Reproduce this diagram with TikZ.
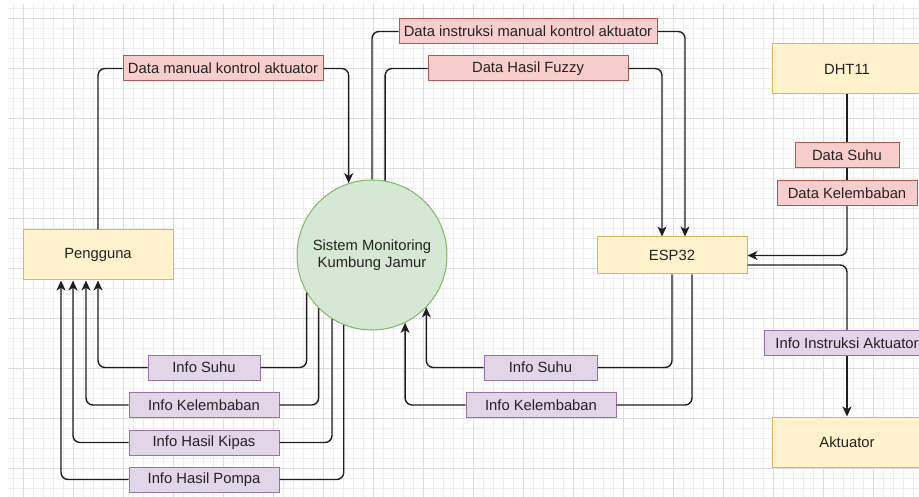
\documentclass[tikz,border=0pt]{standalone}
\usepackage{fontspec}
\setmainfont{Liberation Sans}
\usetikzlibrary{arrows.meta}

\definecolor{yfill}{HTML}{FFF2CC}
\definecolor{ybd}{HTML}{D6B656}
\definecolor{gfill}{HTML}{D5E8D4}
\definecolor{gbd}{HTML}{82B366}
\definecolor{pfill}{HTML}{F8CECC}
\definecolor{pbd}{HTML}{B85450}
\definecolor{vfill}{HTML}{E1D5E7}
\definecolor{vbd}{HTML}{9673A6}
\definecolor{ln}{HTML}{1E1E1E}
\definecolor{txt}{HTML}{222222}
\definecolor{gridminor}{HTML}{EEEEEE}
\definecolor{gridmajor}{HTML}{DCDCDC}

\begin{document}
\begin{tikzpicture}[x=1pt,y=-1pt,
  lbl/.style={font=\fontsize{14.8}{17}\selectfont, text=txt},
  entity/.style={lbl, draw=ybd, fill=yfill, line width=1pt,
    minimum width=150pt, minimum height=50pt, inner sep=0pt},
  process/.style={lbl, circle, draw=gbd, fill=gfill, line width=1pt,
    minimum size=150pt, inner sep=0pt, align=center},
  datalab/.style={lbl, draw=pbd, fill=pfill, line width=1pt,
    minimum height=25pt, inner sep=2pt},
  infolab/.style={lbl, draw=vbd, fill=vfill, line width=1pt,
    minimum height=25pt, inner sep=2pt},
  flow/.style={draw=ln, line width=1.4pt, rounded corners=7pt},
  arr/.style={flow, -{Stealth[length=10pt,width=9pt,inset=2.8pt]}}
]
\useasboundingbox (0,0) rectangle (919,497);
\fill[white] (0,0) rectangle (919,497);

% background grid
\begin{scope}
  \clip (8,5) rectangle (919,497);
  \foreach \x in {13,23,...,913} \draw[gridminor, line width=0.6pt] (\x,0) -- (\x,497);
  \foreach \y in {8,18,...,498} \draw[gridminor, line width=0.6pt] (0,\y) -- (919,\y);
  \foreach \x in {23,73,...,873} \draw[gridmajor, line width=0.8pt] (\x,0) -- (\x,497);
  \foreach \y in {18,68,...,468} \draw[gridmajor, line width=0.8pt] (0,\y) -- (919,\y);
\end{scope}

% entities and process
\node[entity] (peng) at (98,255) {Pengguna};
\node[process] (circ) at (372,255) {Sistem Monitoring\\Kumbung Jamur};
\node[entity, minimum height=37pt] (esp) at (672,255.5) {ESP32};
\node[entity] (dht) at (847,69) {DHT11};
\node[entity] (akt) at (847,442) {Aktuator};

% data flow labels
\node[datalab, minimum width=200pt] (l1) at (223,68.5) {Data manual kontrol aktuator};
\node[datalab, minimum width=258pt] (l2) at (528,31.5) {Data instruksi manual kontrol aktuator};
\node[datalab, minimum width=200pt] (l3) at (528,68.5) {Data Hasil Fuzzy};
\node[datalab, minimum width=104pt] (ds) at (847,155.5) {Data Suhu};
\node[datalab, minimum width=140pt] (dk) at (847,193) {Data Kelembaban};
\node[infolab, minimum width=166pt] (ia) at (847,343) {Info Instruksi Aktuator};
\node[infolab, minimum width=112pt] (is1) at (204,367.5) {Info Suhu};
\node[infolab, minimum width=150pt] (ik1) at (204,405) {Info Kelembaban};
\node[infolab, minimum width=150pt] (ip1) at (204,442.5) {Info Hasil Kipas};
\node[infolab, minimum width=150pt] (ipo1) at (204,479.5) {Info Hasil Pompa};
\node[infolab, minimum width=113pt] (is2) at (540.5,367.5) {Info Suhu};
\node[infolab, minimum width=150pt] (ik2) at (541,405) {Info Kelembaban};

% flows
\draw[flow] (peng.north) |- (l1.west);
\draw[arr] (l1.east) -| (circ.108);
\draw[flow] (circ.90) |- (l2.west);
\draw[arr] (l2.east) -| ([xshift=13pt]esp.north);
\draw[flow] (circ.80) |- (l3.west);
\draw[arr] (l3.east) -| ([xshift=-10pt]esp.north);

\draw[flow] (dht.south) -- (ds.north);
\draw[flow] (ds.south) -- (dk.north);
\draw[arr] (dk.south) |- (esp.east);
\draw[flow] ([yshift=-9.5pt]esp.east) -| (ia.north);
\draw[arr] (ia.south) -- (akt.north);

\draw[flow] (esp.south) |- (is2.east);
\draw[arr] (is2.west) -| (circ.-44);
\draw[flow] ([xshift=20pt]esp.south) |- (ik2.east);
\draw[arr] (ik2.west) -| (circ.-64);

\draw[flow] (circ.-150) |- (is1.east);
\draw[arr] (is1.west) -| (peng.south);
\draw[flow] (circ.-135) |- (ik1.east);
\draw[arr] (ik1.west) -| ([xshift=-12pt]peng.south);
\draw[flow] (circ.-122) |- (ip1.east);
\draw[arr] (ip1.west) -| ([xshift=-25pt]peng.south);
\draw[flow] (circ.-112) |- (ipo1.east);
\draw[arr] (ipo1.west) -| ([xshift=-37pt]peng.south);
\end{tikzpicture}
\end{document}
